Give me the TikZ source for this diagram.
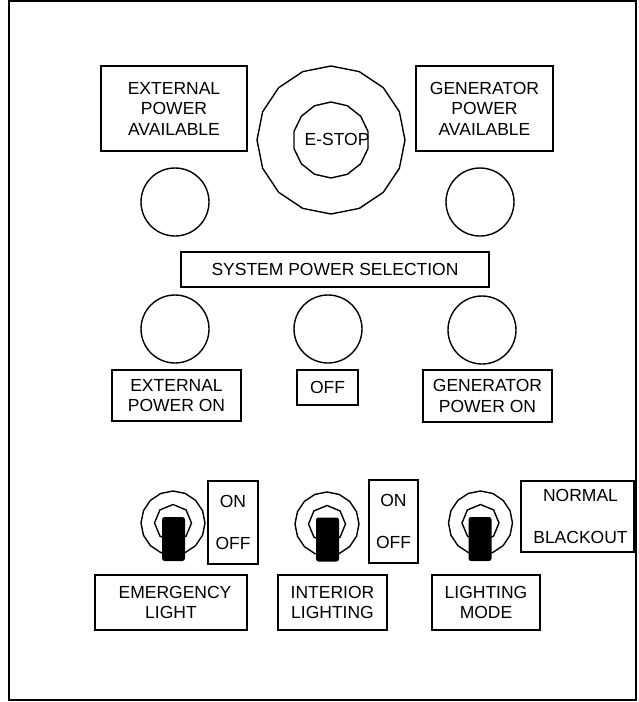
\documentclass[tikz,border=0pt]{standalone}
\usepackage{fontspec}
\setmainfont{Liberation Sans}
\usetikzlibrary{shapes.geometric}
\tikzstyle{panel}=[draw=black, line width=1.4pt]
\tikzstyle{plate}=[rectangle, draw=black, line width=1.4pt, align=center, inner sep=0pt, font=\fontsize{17.5}{20.5}\selectfont]
\tikzstyle{caption}=[inner sep=0pt, align=center, font=\fontsize{17.5}{20.5}\selectfont]
\tikzstyle{lamp}=[circle, draw=black, line width=1.4pt, minimum size=68pt, inner sep=0pt]
\tikzstyle{bezel}=[regular polygon, regular polygon sides=16, shape border rotate=11.25, draw=black, line width=1.4pt, minimum size=64pt, inner sep=0pt]
\tikzstyle{nut}=[regular polygon, regular polygon sides=8, shape border rotate=22.5, draw=black, line width=1.4pt, minimum size=37pt, inner sep=0pt]
\tikzstyle{lever}=[rectangle, fill=black, rounded corners=2.5pt, minimum width=23pt, minimum height=44pt, inner sep=0pt]

\begin{document}
\begin{tikzpicture}[x=1pt, y=-1pt]
			\useasboundingbox (0,0) rectangle (639,702);
			\draw [style=panel] (9,1) rectangle (636,700);
			% top row
			\node [style=plate, minimum width=146pt, minimum height=85pt] (0) at (174,108.5) {EXTERNAL\\POWER\\AVAILABLE};
			\node [style=plate, minimum width=137pt, minimum height=85pt] (1) at (484.5,108.5) {GENERATOR\\POWER\\AVAILABLE};
			\node [style=bezel, regular polygon sides=16, minimum size=148pt] (2) at (331,140) {};
			\node [style=bezel, regular polygon sides=14, shape border rotate=12.857, minimum size=76pt] (3) at (331,140) {};
			\node [style=caption] (4) at (337,139) {E-STOP};
			\node [style=lamp] (5) at (175,202) {};
			\node [style=lamp] (6) at (480,202) {};
			% power selection
			\node [style=plate, minimum width=308pt, minimum height=35pt] (7) at (335,269.5) {SYSTEM POWER SELECTION};
			\node [style=lamp] (8) at (175,329) {};
			\node [style=lamp] (9) at (328,329) {};
			\node [style=lamp] (10) at (482,330) {};
			\node [style=plate, minimum width=129pt, minimum height=51pt] (11) at (176.5,395.5) {EXTERNAL\\POWER ON};
			\node [style=plate, minimum width=61pt, minimum height=35pt] (12) at (327.5,387.5) {OFF};
			\node [style=plate, minimum width=129pt, minimum height=52pt] (13) at (487.5,396) {GENERATOR\\POWER ON};
			% toggle switches
			\node [style=bezel] (14) at (173,523) {};
			\node [style=nut] (15) at (173,523) {};
			\node [style=lever] (16) at (173.5,539) {};
			\node [style=plate, minimum width=50pt, minimum height=83pt] (17) at (233,522.5) {ON\\[21.5pt]OFF};
			\node [style=bezel] (18) at (327,524) {};
			\node [style=nut] (19) at (327,524) {};
			\node [style=lever] (20) at (327.5,539.5) {};
			\node [style=plate, minimum width=49pt, minimum height=83pt] (21) at (393.5,521.5) {ON\\[21.5pt]OFF};
			\node [style=bezel] (22) at (480.5,523) {};
			\node [style=nut] (23) at (480.5,523) {};
			\node [style=lever] (24) at (480,539) {};
			\node [style=plate, minimum width=113pt, minimum height=71pt, text depth=-3pt] (25) at (577.5,516.5) {\hspace*{6pt}NORMAL\\[22pt]\hspace*{6pt}BLACKOUT};
			\node [style=plate, minimum width=152pt, minimum height=55pt] (26) at (171,602.5) {\hspace*{8pt}EMERGENCY\\LIGHT};
			\node [style=plate, minimum width=109pt, minimum height=55pt] (27) at (332.5,602.5) {INTERIOR\\LIGHTING};
			\node [style=plate, minimum width=108pt, minimum height=55pt] (28) at (486,602.5) {LIGHTING\\MODE};
\end{tikzpicture}
\end{document}
